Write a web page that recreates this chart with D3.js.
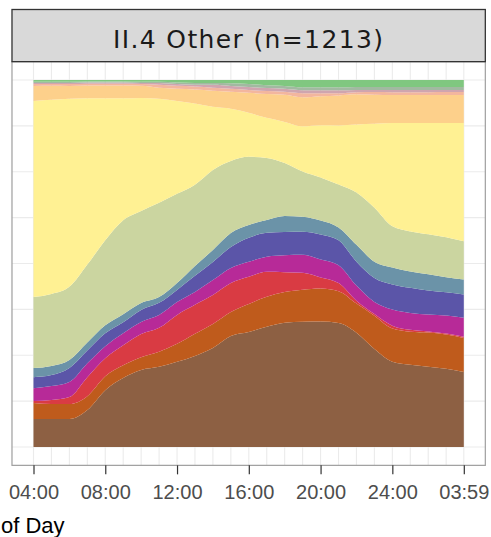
<!DOCTYPE html>
<html>
<head>
<meta charset="utf-8">
<script src="https://cdn.jsdelivr.net/npm/d3@7"></script>
<style>
  html, body { margin: 0; padding: 0; background: #ffffff; }
  svg { display: block; }
</style>
</head>
<body>
<svg id="chart" width="491" height="537"></svg>
<script>
// Minutes after 04:00 for each sample (hourly, last sample at 03:59)
const minutesFromStart = [0, 60, 120, 180, 240, 300, 360, 420, 480, 540, 600, 660, 720,
  780, 840, 900, 960, 1020, 1080, 1140, 1200, 1260, 1320, 1380, 1439];

// Axis ticks
const tickMinutes = [0, 240, 480, 720, 960, 1200, 1439];
const tickLabels = ["04:00", "08:00", "12:00", "16:00", "20:00", "24:00", "03:59"];

// Share of respondents (%) per activity, bottom layer first
const activity01 = [7.6, 7.6, 7.6, 10.1, 15.5, 18.8, 21.0, 21.8, 23.2, 24.8, 27.0, 30.2, 31.3,
  32.7, 33.8, 34.1, 34.1, 33.8, 31.1, 26.7, 23.2, 22.3, 21.8, 21.3, 20.4];
const activity02 = [4.4, 4.1, 4.1, 3.8, 3.8, 3.5, 3.5, 4.1, 4.9, 6.0, 6.5, 6.5, 7.6,
  8.2, 8.4, 8.7, 9.0, 8.7, 7.9, 9.0, 9.0, 9.0, 9.3, 9.3, 9.3];
const activity03 = [0.5, 1.1, 1.9, 5.2, 4.9, 5.4, 6.3, 6.5, 7.9, 7.9, 7.9, 7.9, 7.4,
  6.8, 5.4, 4.6, 3.0, 2.2, 0.8, 0.5, 0.8, 0.5, 0.3, 0.3, 0.3];
const activity04 = [3.5, 3.8, 4.1, 3.8, 3.3, 3.3, 3.3, 3.5, 3.5, 3.5, 4.1, 4.1, 4.1,
  4.1, 4.6, 4.9, 4.9, 4.9, 4.1, 3.3, 4.4, 4.6, 4.6, 4.9, 5.2];
const activity05 = [3.0, 3.0, 3.8, 3.5, 3.5, 3.0, 3.3, 3.3, 3.3, 4.4, 4.9, 5.7, 6.5,
  6.5, 6.3, 6.3, 6.8, 6.8, 6.5, 6.5, 6.8, 6.8, 6.5, 6.3, 6.3];
const activity06 = [2.5, 2.5, 2.2, 2.2, 2.2, 2.2, 1.9, 1.6, 1.9, 2.7, 3.3, 3.8, 3.5,
  3.5, 4.4, 4.1, 3.8, 3.5, 4.6, 4.4, 4.6, 4.4, 4.4, 4.1, 4.1];
const activity07 = [19.3, 19.6, 19.9, 21.3, 23.2, 25.6, 25.1, 25.6, 24.3, 22.1, 21.8, 19.6, 18.5,
  16.9, 14.4, 12.3, 11.7, 11.7, 14.2, 14.7, 11.2, 10.9, 10.9, 10.9, 10.4];
const activity08 = [53.4, 52.9, 51.2, 45.5, 38.7, 33.2, 30.8, 28.3, 25.3, 22.1, 17.2, 14.2, 12.0,
  10.9, 11.2, 12.3, 14.2, 16.1, 18.5, 22.9, 28.1, 29.4, 30.2, 31.1, 32.2];
const activity09 = [4.1, 3.8, 3.5, 3.5, 3.5, 3.5, 3.3, 3.0, 3.3, 3.8, 4.4, 4.6, 5.4,
  6.5, 7.4, 7.9, 7.9, 8.2, 8.2, 7.9, 7.6, 7.6, 7.6, 7.6, 7.6];
const activity10 = [0.5, 0.5, 0.5, 0.5, 0.5, 0.5, 0.5, 0.8, 0.8, 0.8, 0.8, 0.8, 0.8,
  0.8, 0.8, 1.1, 0.8, 0.6, 0.6, 0.7, 0.8, 0.8, 0.8, 0.8, 0.8];
const activity11 = [0.3, 0.3, 0.3, 0.3, 0.3, 0.3, 0.3, 0.5, 0.5, 0.5, 0.8, 0.8, 0.8,
  0.8, 0.8, 0.8, 0.8, 0.8, 0.6, 0.6, 0.6, 0.6, 0.6, 0.6, 0.6];
const activity12 = [0.3, 0.3, 0.3, 0.3, 0.3, 0.3, 0.3, 0.3, 0.4, 0.5, 0.5, 0.7, 0.8,
  0.8, 0.8, 0.8, 0.8, 0.8, 0.8, 0.8, 0.8, 0.8, 0.8, 0.8, 0.8];
const activity13 = [0.5, 0.5, 0.5, 0.4, 0.4, 0.4, 0.5, 0.5, 0.7, 0.8, 0.8, 0.9, 1.1,
  1.4, 1.6, 2.0, 2.0, 2.0, 1.9, 1.9, 1.9, 1.9, 1.9, 1.9, 1.9];

const activityKeys = ["a01", "a02", "a03", "a04", "a05", "a06", "a07", "a08", "a09", "a10", "a11", "a12", "a13"];
const activityValues = [activity01, activity02, activity03, activity04, activity05, activity06,
  activity07, activity08, activity09, activity10, activity11, activity12, activity13];
const activityColors = ["#8D6043", "#BF5B1C", "#D93B43", "#B72A98", "#5B55A8", "#6B93A8",
  "#CBD5A0", "#FFF193", "#FDD08B", "#F3B69E", "#CFA5AF", "#A2B9A1", "#80C780"];

const stripTitle = "II.4 Other (n=1213)";
const xTitle = "of Day";

// Geometry
const svg = d3.select("#chart");
const x = d3.scaleLinear().domain([0, 1439]).range([33.5, 463.8]);
const y = d3.scaleLinear().domain([0, 1]).range([447, 80]);
const xPad = 1439 * 0.05;
const panel = { x0: x(-xPad), x1: x(1439 + xPad), y0: y(1.05), y1: y(-0.05) };

// Panel background and grid
svg.append("rect")
  .attr("x", panel.x0).attr("y", panel.y0)
  .attr("width", panel.x1 - panel.x0).attr("height", panel.y1 - panel.y0)
  .attr("fill", "#ffffff");

const grid = svg.append("g").attr("stroke", "#EBEBEB").attr("stroke-width", 1.1);
d3.range(0, 1441, 60).forEach(m => {
  grid.append("line")
    .attr("x1", x(Math.min(m, 1439))).attr("x2", x(Math.min(m, 1439)))
    .attr("y1", panel.y0).attr("y2", panel.y1);
});
d3.range(0, 1.0001, 0.125).forEach(v => {
  grid.append("line")
    .attr("x1", panel.x0).attr("x2", panel.x1)
    .attr("y1", y(v)).attr("y2", y(v));
});

// Stacked proportions
const rows = minutesFromStart.map((m, i) => {
  const row = { minute: m };
  activityKeys.forEach((k, j) => { row[k] = activityValues[j][i]; });
  return row;
});
const stacked = d3.stack().keys(activityKeys).offset(d3.stackOffsetExpand)(rows);

const area = d3.area()
  .x(d => x(d.data.minute))
  .y0(d => y(d[0]))
  .y1(d => y(d[1]))
  .curve(d3.curveMonotoneX);

svg.append("g").selectAll("path")
  .data(stacked)
  .join("path")
  .attr("d", area)
  .attr("fill", (d, i) => activityColors[i]);

// Panel border
svg.append("rect")
  .attr("x", panel.x0).attr("y", panel.y0)
  .attr("width", panel.x1 - panel.x0).attr("height", panel.y1 - panel.y0)
  .attr("fill", "none").attr("stroke", "#9E9E9E").attr("stroke-width", 1.2);

// Facet strip
svg.append("rect")
  .attr("x", panel.x0).attr("y", 9.5)
  .attr("width", panel.x1 - panel.x0).attr("height", panel.y0 - 9.5)
  .attr("fill", "#D9D9D9").attr("stroke", "#333333").attr("stroke-width", 1.3);

const strip = svg.append("text")
  .attr("x", (panel.x0 + panel.x1) / 2).attr("y", 48.3)
  .attr("text-anchor", "middle")
  .attr("font-family", "'DejaVu Sans', Verdana, sans-serif")
  .attr("font-size", 25)
  .attr("fill", "#1A1A1A")
  .text(stripTitle);
const natural = strip.node().getComputedTextLength();
strip.attr("letter-spacing", Math.max(0, (270 - natural) / (stripTitle.length - 1)));

// X axis
const axis = svg.append("g")
  .attr("transform", `translate(0,${panel.y1})`)
  .call(d3.axisBottom(x).tickValues(tickMinutes)
    .tickFormat((d, i) => tickLabels[i]).tickSize(9).tickPadding(10));
axis.select(".domain").remove();
axis.selectAll(".tick line").attr("stroke", "#333333").attr("stroke-width", 1.2);
axis.selectAll(".tick text")
  .attr("fill", "#4D4D4D")
  .attr("font-family", "'Liberation Sans', Arial, sans-serif")
  .attr("font-size", 20);

svg.append("text")
  .attr("x", 1).attr("y", 533)
  .attr("text-anchor", "start")
  .attr("font-family", "'Liberation Sans', Arial, sans-serif")
  .attr("font-size", 22)
  .attr("fill", "#000000")
  .text(xTitle);
</script>
</body>
</html>
